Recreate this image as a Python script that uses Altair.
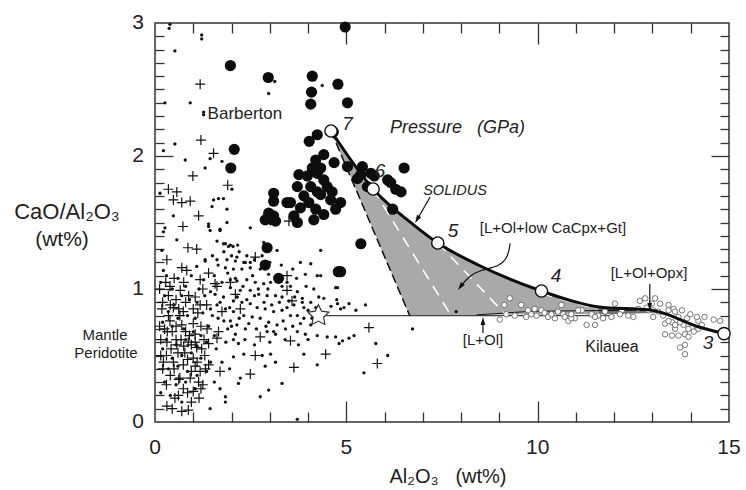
import altair as alt
import pandas as pd

FONT = "Liberation Sans"
INK = "#222222"
W, H = 574, 399
NB = "\u00a0"

# ---------------- data ----------------
# Barberton komatiites (large filled circles)
big_x = [1.97, 2.96, 4.11, 4.09, 4.07, 4.78, 5.03, 4.24, 4.03, 4.66,
         2.07, 1.98, 4.41, 4.20, 4.11, 4.33, 4.68, 3.76, 3.98, 4.24,
         4.41, 3.72, 4.07, 3.89, 4.24, 4.50, 4.63, 4.33, 4.59, 4.85,
         4.72, 3.80, 4.02, 4.20, 4.41, 4.15, 3.63, 3.10, 3.10, 3.45,
         3.54, 2.97, 3.10, 2.88, 3.15, 3.72, 5.03, 5.42, 5.38, 5.64,
         5.55, 5.29, 6.08, 6.16, 6.29, 6.43, 6.51, 5.73, 6.21, 5.38,
         4.85, 2.93, 2.88, 3.23, 4.79, 4.97]
big_y = [2.68, 2.59, 2.60, 2.48, 2.39, 2.54, 2.40, 2.16, 2.11, 2.18,
         2.05, 1.91, 2.01, 1.97, 1.91, 1.91, 1.95, 1.86, 1.85, 1.87,
         1.82, 1.77, 1.77, 1.70, 1.73, 1.77, 1.73, 1.71, 1.67, 1.65,
         1.60, 1.61, 1.65, 1.60, 1.56, 1.52, 1.55, 1.72, 1.66, 1.65,
         1.65, 1.57, 1.55, 1.52, 1.51, 1.50, 1.92, 1.92, 1.86, 1.87,
         1.77, 1.83, 1.82, 1.80, 1.75, 1.73, 1.91, 1.85, 1.60, 1.34,
         1.13, 1.31, 1.18, 1.08, 1.13, 2.97]

# small filled dots
dot_x = [0.39, 1.22, 0.52, 0.26, 0.92, 1.27, 1.27, 2.97, 3.13, 4.37,
         0.22, 0.52, 0.79, 1.44, 1.75, 1.31, 2.01, 0.13, 1.53, 1.66,
         1.79, 1.49, 1.88, 0.48, 1.88, 1.40, 0.26, 1.44, 1.70, 2.49,
         3.02, 0.57, 1.62, 1.79, 1.92, 2.04, 2.84, 0.18, 1.31, 1.62,
         1.88, 2.10, 2.32, 2.49, 3.19, 4.33, 4.07, 4.33, 4.77, 0.22,
         1.40, 1.70, 1.84, 1.97, 2.16, 1.31, 2.14, 2.36, 4.72, 0.22,
         1.09, 1.84, 2.05, 2.27, 2.49, 2.75, 2.97, 3.93, 4.24, 1.27,
         1.97, 2.14, 2.40, 2.62, 2.84, 3.02, 3.32, 3.54, 3.72, 3.85,
         4.07, 4.28, 4.41, 4.77, 4.85, 5.07, 1.97, 2.23, 2.49, 2.71,
         2.93, 3.15, 3.32, 3.50, 3.63, 3.89, 1.57, 1.79, 2.05, 2.27,
         2.49, 2.67, 2.88, 3.10, 3.32, 3.54, 3.72, 3.89, 4.07, 1.62,
         1.84, 2.05, 2.32, 2.54, 2.75, 2.97, 3.19, 3.41, 3.72, 3.93,
         1.97, 2.14, 2.36, 2.93, 3.15, 4.24, 4.50, 4.72, 4.90, 5.07,
         5.20, 4.81, 4.94, 2.18, 2.05, 2.32, 2.80, 3.02, 3.15, 3.89,
         4.24, 2.23, 2.18, 2.88, 3.32, 2.97, 1.84, 1.84, 2.75, 1.44,
         3.72, 5.46, 5.77, 6.73, 6.08, 7.87, 4.60, 4.75, 5.25, 5.50,
         0.15, 0.30, 0.45, 0.60, 0.80, 0.95, 1.15, 0.25, 0.50, 0.70,
         0.90, 1.10, 1.30, 0.35, 0.60, 0.85, 1.05, 1.25, 1.45, 0.20,
         0.45, 0.75, 1.00, 1.20, 1.40, 0.30, 0.55, 0.80, 1.10, 1.35,
         0.20, 0.45, 0.70, 0.95, 1.20, 1.45, 0.35, 0.60, 0.85, 1.10,
         1.35, 0.25, 0.55, 0.80, 1.05, 0.40, 0.70, 0.15, 1.60, 1.75,
         1.55, 1.70, 1.95, 2.05, 1.90, 1.65, 0.37, 1.22,
         1.50, 1.65, 1.80, 2.00, 2.20, 2.40, 2.60, 2.80, 3.00, 3.30,
         3.60, 3.80, 1.55, 1.75, 1.90, 2.10, 2.30, 2.55, 2.70, 2.95,
         3.15, 3.45, 3.70, 3.95, 4.15, 1.45, 1.70, 1.95, 2.15, 2.40,
         2.60, 2.85, 3.05, 3.25, 3.45, 3.65, 3.85, 4.00, 4.20, 1.50,
         1.80, 2.00, 2.20, 2.45, 2.65, 2.90, 3.10, 3.35, 3.60, 3.80,
         4.10, 1.55, 1.85, 2.10, 2.35, 2.60, 3.00, 3.40, 3.75, 4.00]
dot_y = [2.99, 2.91, 2.79, 2.40, 2.40, 2.33, 2.31, 2.47, 2.56, 2.53,
         2.04, 2.09, 1.97, 1.98, 1.96, 1.91, 1.75, 1.72, 1.67, 1.68,
         1.68, 1.62, 1.60, 1.55, 1.50, 1.49, 1.46, 1.44, 1.44, 1.46,
         1.49, 1.37, 1.36, 1.34, 1.32, 1.32, 1.35, 1.29, 1.22, 1.22,
         1.22, 1.21, 1.20, 1.20, 1.29, 1.29, 1.19, 1.10, 1.01, 1.43,
         1.47, 1.45, 1.34, 1.33, 1.33, 1.21, 1.24, 1.20, 1.01, 1.14,
         1.17, 1.16, 1.15, 1.15, 1.16, 1.15, 1.11, 1.11, 1.10, 1.07,
         1.07, 1.06, 1.07, 1.05, 1.04, 1.05, 1.02, 1.02, 0.98, 0.93,
         0.90, 0.94, 0.93, 0.89, 0.85, 0.89, 1.01, 0.99, 0.99, 0.96,
         0.95, 0.95, 0.94, 0.91, 0.88, 0.86, 0.96, 0.94, 0.91, 0.90,
         0.89, 0.86, 0.85, 0.83, 0.84, 0.80, 0.80, 0.78, 0.73, 0.88,
         0.85, 0.83, 0.80, 0.79, 0.78, 0.75, 0.73, 0.70, 0.68, 0.66,
         0.76, 0.73, 0.70, 0.68, 0.66, 0.65, 0.64, 0.64, 0.61, 0.63,
         0.65, 0.59, 0.86, 0.59, 0.49, 0.51, 0.50, 0.51, 0.45, 0.51,
         0.43, 0.33, 0.29, 0.42, 0.29, 0.24, 0.19, 0.15, 0.19, 0.10,
         0.02, 0.37, 0.59, 0.70, 0.50, 0.83, 0.87, 0.92, 0.84, 0.88,
         1.05, 1.10, 1.00, 1.08, 1.02, 1.10, 1.00, 0.95, 0.88, 0.95,
         0.92, 0.90, 0.95, 0.83, 0.78, 0.80, 0.78, 0.82, 0.85, 0.75,
         0.72, 0.70, 0.68, 0.65, 0.72, 0.62, 0.58, 0.62, 0.57, 0.60,
         0.55, 0.48, 0.50, 0.52, 0.48, 0.45, 0.40, 0.42, 0.38, 0.35,
         0.38, 0.30, 0.28, 0.30, 0.25, 0.20, 0.15, 0.22, 0.55, 0.45,
         0.30, 0.25, 0.40, 0.62, 0.70, 0.78, 2.96, 2.88,
         1.25, 1.18, 1.28, 1.25, 1.28, 1.25, 1.22, 1.25, 1.20, 1.18,
         1.15, 1.20, 1.10, 1.05, 1.12, 1.08, 1.02, 1.10, 1.00, 1.00,
         1.08, 1.05, 1.08, 1.02, 1.00, 0.98, 0.90, 0.86, 0.94, 0.92,
         0.95, 0.90, 0.88, 0.90, 0.86, 0.94, 0.90, 0.84, 0.86, 0.80,
         0.76, 0.72, 0.78, 0.74, 0.70, 0.72, 0.68, 0.76, 0.72, 0.74,
         0.78, 0.65, 0.60, 0.66, 0.62, 0.58, 0.60, 0.62, 0.58, 0.62]

# mantle peridotite (crosses)
cross_x = [1.18, 1.20, 1.53, 0.99, 1.90, 0.35, 0.57, 0.48, 0.70, 0.92,
           1.14, 0.73, 3.50, 0.86, 1.09, 0.31, 0.70, 0.83, 1.40, 2.62,
           3.45, 0.39, 1.18, 1.57, 1.97, 0.66, 1.05, 1.62, 2.10, 3.45,
           0.48, 0.74, 1.18, 1.75, 2.23, 3.58, 0.39, 0.70, 1.00, 1.36,
           1.66, 2.75, 3.54, 5.59, 0.31, 0.57, 0.87, 1.09, 1.40, 1.62,
           0.48, 0.74, 1.00, 1.18, 1.40, 1.70, 2.62, 2.49, 3.63, 4.46,
           5.81, 0.92, 1.14, 0.74, 1.00, 0.52, 0.31, 0.87, 0.61, 0.20,
           0.35, 0.55, 0.80, 1.00, 0.25, 0.45, 0.65, 0.90, 1.20, 0.30,
           0.60, 0.85, 1.10, 1.30, 0.40, 0.65, 0.95, 1.25, 0.55, 0.75,
           1.05, 0.35, 0.15, 0.20, 0.95, 0.70, 1.15,
           0.12, 0.28, 0.50, 0.75, 1.25, 0.18, 0.40, 0.62, 0.88, 1.12,
           1.35, 0.12, 0.32, 0.55, 0.80, 1.05, 1.28, 0.15, 0.42, 0.68,
           0.95, 1.22, 0.22, 0.50, 0.78, 1.05, 1.32, 0.30, 0.62, 0.85,
           1.20, 0.45]
cross_y = [2.54, 2.12, 2.02, 1.85, 1.78, 1.75, 1.73, 1.67, 1.65, 1.66,
           1.55, 1.47, 1.51, 1.31, 1.30, 1.22, 1.16, 1.14, 1.12, 1.24,
           1.10, 1.02, 1.07, 1.04, 1.05, 0.99, 0.94, 1.02, 0.96, 0.99,
           0.86, 0.83, 0.88, 0.83, 0.85, 0.91, 0.76, 0.73, 0.74, 0.70,
           0.68, 0.64, 0.61, 0.71, 0.60, 0.58, 0.60, 0.56, 0.59, 0.63,
           0.45, 0.43, 0.48, 0.38, 0.43, 0.38, 0.50, 0.36, 0.41, 0.51,
           0.44, 0.33, 0.30, 0.25, 0.23, 0.18, 0.12, 0.09, 0.20, 0.90,
           0.95, 0.92, 0.90, 0.85, 0.70, 0.68, 0.80, 0.65, 0.72, 0.50,
           0.52, 0.47, 0.45, 0.50, 0.35, 0.33, 0.38, 0.28, 0.62, 0.57,
           0.60, 0.80, 0.62, 0.40, 0.15, 0.08, 0.18,
           1.00, 1.05, 1.08, 1.05, 1.00, 0.85, 0.88, 0.85, 0.95, 0.82,
           0.88, 0.72, 0.68, 0.72, 0.68, 0.66, 0.62, 0.50, 0.55, 0.62,
           0.58, 0.55, 0.45, 0.40, 0.52, 0.42, 0.40, 0.28, 0.32, 0.22,
           0.25, 0.10]

# Kilauea (small open circles)
kil_x = [9.27, 9.13, 9.01, 9.57, 9.75, 9.92, 10.10, 9.70, 10.27, 10.45,
         10.67, 10.80, 10.97, 10.62, 11.15, 11.28, 11.41, 11.58, 11.76, 11.93,
         12.02, 12.20, 12.37, 9.18, 9.40, 9.97, 10.18, 10.36, 10.53, 10.71,
         10.88, 11.06, 11.50, 11.71, 12.15, 12.50, 12.63, 12.67, 12.81, 12.89,
         13.07, 13.02, 13.15, 13.28, 13.42, 13.33, 13.51, 13.59, 13.68, 13.81,
         13.90, 13.68, 13.85, 14.03, 14.08, 14.20, 14.29, 13.51, 13.33, 13.94,
         13.59, 13.72, 13.85, 13.85, 14.60, 14.77, 14.36, 11.50, 9.83, 10.88,
         11.76, 13.02, 12.98, 12.85, 13.20, 13.42, 13.55, 13.77, 13.99, 14.16,
         13.42, 13.72, 13.94, 14.20, 13.59]
kil_y = [0.93, 0.88, 0.77, 0.88, 0.84, 0.85, 0.84, 0.79, 0.79, 0.78,
         0.81, 0.76, 0.78, 0.88, 0.84, 0.73, 0.81, 0.80, 0.83, 0.79,
         0.89, 0.84, 0.80, 0.81, 0.80, 0.80, 0.82, 0.81, 0.83, 0.79,
         0.78, 0.84, 0.79, 0.78, 0.81, 0.79, 0.85, 0.91, 0.93, 0.84,
         0.93, 0.79, 0.83, 0.80, 0.84, 0.74, 0.75, 0.70, 0.79, 0.73,
         0.78, 0.65, 0.66, 0.71, 0.68, 0.76, 0.73, 0.65, 0.66, 0.64,
         0.73, 0.56, 0.58, 0.51, 0.77, 0.76, 0.79, 0.73, 0.81, 0.81,
         0.83, 0.84, 0.89, 0.86, 0.89, 0.88, 0.85, 0.84, 0.81, 0.79,
         0.76, 0.75, 0.70, 0.70, 0.83]

# solidus and pressure points (GPa)
sol_x = [4.60, 5.70, 6.79, 7.39, 8.49, 10.10, 10.84, 11.60, 12.93, 13.30, 14.15, 14.87]
sol_y = [2.188, 1.752, 1.475, 1.346, 1.175, 0.985, 0.915, 0.865, 0.842, 0.817, 0.72, 0.665]
p_x = [4.60, 5.70, 7.39, 10.10, 14.87]
p_y = [2.188, 1.752, 1.346, 0.985, 0.665]
p_lab = ["7", "6", "5", "4", "3"]
plab_x = [5.03, 5.88, 7.79, 10.48, 14.45]
plab_y = [2.24, 1.887, 1.436, 1.098, 0.594]

# shaded melting field
area_x = [4.60, 5.70, 6.66, 6.79, 7.39, 8.40, 8.49, 10.10, 10.84, 11.60, 12.93]
area_top = [2.188, 1.752, 1.50, 1.475, 1.346, 1.185, 1.175, 0.985, 0.915, 0.865, 0.842]
area_bot = [2.188, 1.445, 0.797, 0.798, 0.80, 0.805, 0.806, 0.81, 0.81, 0.81, 0.82]
band_x = [11.60, 12.93]
band_top = [0.865, 0.842]
band_bot = [0.81, 0.82]

# axis tick positions and labels
x_minor = [1, 2, 3, 4, 6, 7, 8, 9, 11, 12, 13, 14]
x_major = [5, 10]
y_minor = [0.1, 0.2, 0.3, 0.4, 0.5, 0.6, 0.7, 0.8, 0.9,
           1.1, 1.2, 1.3, 1.4, 1.5, 1.6, 1.7, 1.8, 1.9,
           2.1, 2.2, 2.3, 2.4, 2.5, 2.6, 2.7, 2.8, 2.9]
y_major = [1, 2]
x_labels = [0, 5, 10, 15]
y_labels = [0, 1, 2, 3]

# ---------------- helpers ----------------
xs = alt.Scale(domain=[0, 15], nice=False, zero=False)
ys = alt.Scale(domain=[0, 3], nice=False, zero=False)
X = alt.X("x:Q", scale=xs, axis=None)
Y = alt.Y("y:Q", scale=ys, axis=None)
Y2 = alt.Y2("y2:Q")

STAR = ("M0,-1L0.294,-0.405L0.951,-0.309L0.476,0.155L0.588,0.809L0,0.5"
        "L-0.588,0.809L-0.476,0.155L-0.951,-0.309L-0.294,-0.405Z")
HEAD = "M0,-1L0.6,1L-0.6,1Z"
PLUS = "M-1,0L1,0M0,-1L0,1"


def pts(xv, yv):
    return pd.DataFrame({"x": xv, "y": yv})


def seg(xv, yv):
    return pd.DataFrame({"x": xv, "y": yv, "o": list(range(len(xv)))})


layers = []


# inward-pointing ticks on all four sides, drawn by extra axes (negative tick size)
def tick_axis(channel, orient, vals, ln):
    ax = alt.Axis(orient=orient, values=vals, tickSize={"expr": str(-ln)},
                  ticks=True, labels=False, domain=False, grid=False, title=None,
                  tickColor="#333333", tickWidth=1.3)
    if channel == "x":
        enc = dict(x=alt.X("x:Q", scale=xs, axis=ax), y=Y)
    else:
        enc = dict(x=X, y=alt.Y("y:Q", scale=ys, axis=ax))
    return alt.Chart(pts([7.5], [1.5])).mark_point(opacity=0).encode(**enc)


for orient in ("bottom", "top"):
    layers.append(tick_axis("x", orient, x_minor, 10))
    layers.append(tick_axis("x", orient, x_major, 21))
for orient in ("left", "right"):
    layers.append(tick_axis("y", orient, y_minor, 9))
    layers.append(tick_axis("y", orient, y_major, 18))

# shaded area
layers.append(alt.Chart(pd.DataFrame({"x": area_x, "y": area_top, "y2": area_bot}))
              .mark_area(color="#a9a9a9", opacity=1, interpolate="linear")
              .encode(x=X, y=Y, y2=Y2))
layers.append(alt.Chart(pd.DataFrame({"x": band_x, "y": band_top, "y2": band_bot}))
              .mark_area(color="#6e6e6e", opacity=1)
              .encode(x=X, y=Y, y2=Y2))

# horizontal reference line and lower boundary
layers.append(alt.Chart(seg([4.27, 12.0], [0.80, 0.80]))
              .mark_line(color="#444444", strokeWidth=1.2)
              .encode(x=X, y=Y, order="o:Q"))
layers.append(alt.Chart(seg([8.40, 9.80, 12.93], [0.805, 0.832, 0.842]))
              .mark_line(color="#111111", strokeWidth=1.0)
              .encode(x=X, y=Y, order="o:Q"))

# white dashed lines inside the field
for wx, wy in [([5.70, 7.76], [1.752, 0.79]), ([7.39, 9.22], [1.346, 0.79]),
               ([10.10, 11.55], [0.965, 0.85])]:
    layers.append(alt.Chart(seg(wx, wy))
                  .mark_line(color="white", strokeWidth=1.6, strokeDash=[11, 8])
                  .encode(x=X, y=Y, order="o:Q"))
# black dashed left boundary
layers.append(alt.Chart(seg([4.60, 6.66], [2.188, 0.797]))
              .mark_line(color="#111111", strokeWidth=1.5, strokeDash=[9, 4])
              .encode(x=X, y=Y, order="o:Q"))

# data points
layers.append(alt.Chart(pts(dot_x, dot_y))
              .mark_point(shape="circle", filled=True, color="#111111", size=11, opacity=1)
              .encode(x=X, y=Y))
layers.append(alt.Chart(pts(cross_x, cross_y))
              .mark_point(shape=PLUS, filled=False, color="#111111",
                          strokeWidth=1.2, size=100, opacity=1)
              .encode(x=X, y=Y))
layers.append(alt.Chart(pts(big_x, big_y))
              .mark_point(shape="circle", filled=True, color="#0d0d0d", size=125, opacity=1)
              .encode(x=X, y=Y))
layers.append(alt.Chart(pts(kil_x, kil_y))
              .mark_point(shape="circle", filled=True, fill="white", stroke="#555555",
                          strokeWidth=0.8, size=30, opacity=1)
              .encode(x=X, y=Y))

# solidus
layers.append(alt.Chart(seg(sol_x, sol_y))
              .mark_line(color="#0d0d0d", strokeWidth=3, interpolate="monotone")
              .encode(x=X, y=Y, order="o:Q"))

# pressure points and star
layers.append(alt.Chart(pts(p_x, p_y))
              .mark_point(shape="circle", filled=True, fill="white", stroke="#111111",
                          strokeWidth=1.4, size=150, opacity=1)
              .encode(x=X, y=Y))
layers.append(alt.Chart(pts([4.27], [0.80]))
              .mark_point(shape=STAR, filled=True, fill="white", stroke="#333333",
                          strokeWidth=1.2, size=480, opacity=1)
              .encode(x=X, y=Y))

# arrows
arrows = [
    ([7.19, 6.85], [1.692, 1.523], 6.85, 1.523, 210, "linear"),
    ([9.28, 9.23, 9.01, 8.49, 8.19, 7.98], [1.344, 1.243, 1.168, 1.143, 1.093, 1.017],
     7.98, 1.017, 218, "basis"),
    ([12.93, 12.93], [1.038, 0.865], 12.93, 0.865, 180, "linear"),
    ([8.57, 8.57], [0.669, 0.759], 8.57, 0.759, 0, "linear"),
]
for ax_, ay_, hx, hy, ang, interp in arrows:
    layers.append(alt.Chart(seg(ax_, ay_))
                  .mark_line(color="#111111", strokeWidth=1.2, interpolate=interp)
                  .encode(x=X, y=Y, order="o:Q"))
    layers.append(alt.Chart(pts([hx], [hy]))
                  .mark_point(shape=HEAD, filled=True, color="#111111", size=64,
                              angle=ang, opacity=1)
                  .encode(x=X, y=Y))

# pressure labels
layers.append(alt.Chart(pd.DataFrame({"x": plab_x, "y": plab_y, "t": p_lab}))
              .mark_text(font=FONT, fontSize=19, fontStyle="italic", color=INK)
              .encode(x=X, y=Y, text="t:N"))

# tick labels (scale-positioned text)
layers.append(alt.Chart(pd.DataFrame({"x": x_labels, "t": [str(v) for v in x_labels]}))
              .mark_text(font=FONT, fontSize=21, color=INK, align="center", baseline="middle")
              .encode(x=X, y=alt.value(H + 26), text="t:N"))
layers.append(alt.Chart(pd.DataFrame({"y": y_labels, "t": [str(v) for v in y_labels]}))
              .mark_text(font=FONT, fontSize=21, color=INK, align="right", baseline="middle")
              .encode(y=Y, x=alt.value(-11), text="t:N"))


def label(t, x, y, size, italic=False, align="center"):
    kw = dict(font=FONT, fontSize=size, color=INK, align=align, baseline="middle")
    if italic:
        kw["fontStyle"] = "italic"
    return (alt.Chart(pd.DataFrame({"x": [x], "y": [y], "t": [t]}))
            .mark_text(**kw).encode(x=X, y=Y, text="t:N"))


layers += [
    label("Barberton", 2.35, 2.316, 17),
    label("Pressure" + NB * 3 + "(GPa)", 6.14, 2.21, 18, italic=True, align="left"),
    label("SOLIDUS", 7.84, 1.737, 14.5, italic=True),
    label("[L+Ol+low CaCpx+Gt]", 10.40, 1.459, 15),
    label("[L+Ol+Opx]", 12.91, 1.12, 15),
    label("[L+Ol]", 8.57, 0.617, 15),
    label("Kilauea", 11.94, 0.564, 16),
]


def plabel(t, px, py, size):
    return (alt.Chart(pd.DataFrame({"t": [t]}))
            .mark_text(font=FONT, fontSize=size, color=INK, align="center", baseline="middle")
            .encode(text="t:N", x=alt.value(px), y=alt.value(py)))


layers += [
    plabel("Mantle", -50, 312, 15),
    plabel("Peridotite", -49, 330, 15),
    plabel("CaO/Al\u2082O\u2083", -88, 189, 22),
    plabel("(wt%)", -93, 217, 21),
    plabel("Al\u2082O\u2083" + NB * 3 + "(wt%)", 293, 454, 20),
]

chart = (alt.layer(*layers)
         .resolve_axis(x="independent", y="independent")
         .properties(width=W, height=H,
                     padding={"left": 155, "top": 23, "right": 17, "bottom": 68},
                     autosize=alt.AutoSizeParams(type="none"))
         .configure_view(stroke="#333333", strokeWidth=1.5))

chart.save("out.html", embed_options={"renderer": "svg", "actions": False})
